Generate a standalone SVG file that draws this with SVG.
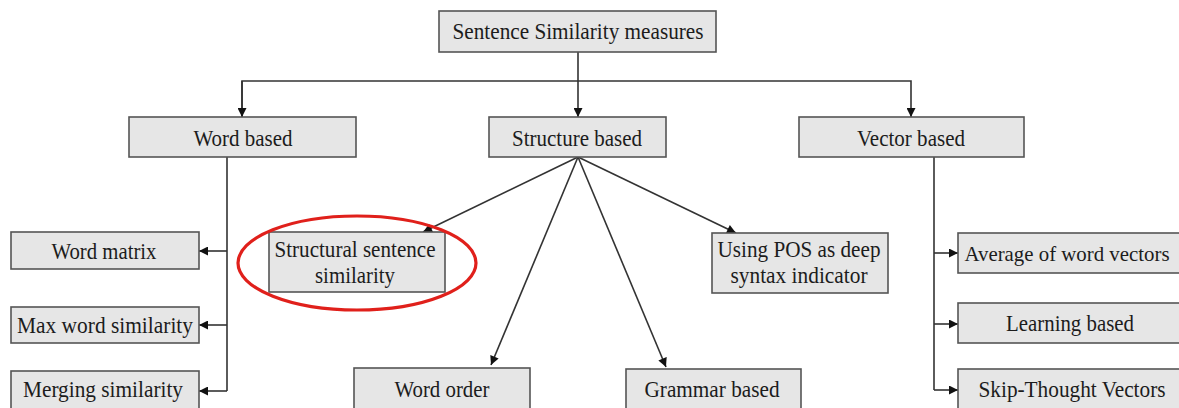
<svg xmlns="http://www.w3.org/2000/svg" width="1179" height="408" viewBox="0 0 1179 408">
<style>
.box{fill:#e6e6e6;stroke:#555;stroke-width:1.6}
.t{font-family:"Liberation Serif","Times New Roman",serif;font-size:23px;fill:#1c1c1c;text-anchor:middle}
.c{fill:none;stroke:#333;stroke-width:1.6}
</style>
<defs>
<marker id="ah" viewBox="0 0 10 10" refX="10" refY="5" markerWidth="10" markerHeight="9" markerUnits="userSpaceOnUse" orient="auto">
<path d="M0,0 L10,5 L0,10 z" fill="#111"/>
</marker>
</defs>
<rect width="1179" height="408" fill="#fff"/>
<g id="connectors">
<path class="c" d="M578,52 V117" marker-end="url(#ah)"/>
<path class="c" d="M242,117 V81 H911 V117" marker-end="url(#ah)"/>
<path class="c" d="M242,81 V117" marker-end="url(#ah)"/>
<path class="c" d="M227,157 V391"/>
<path class="c" d="M227,251 H199" marker-end="url(#ah)"/>
<path class="c" d="M227,325 H199" marker-end="url(#ah)"/>
<path class="c" d="M227,391 H199" marker-end="url(#ah)"/>
<path class="c" d="M578,157 L423,232" marker-end="url(#ah)"/>
<path class="c" d="M578,157 L491,365" marker-end="url(#ah)"/>
<path class="c" d="M578,157 L666,367" marker-end="url(#ah)"/>
<path class="c" d="M578,157 L736,233" marker-end="url(#ah)"/>
<path class="c" d="M934,157 V390"/>
<path class="c" d="M934,253 H958" marker-end="url(#ah)"/>
<path class="c" d="M934,324 H958" marker-end="url(#ah)"/>
<path class="c" d="M934,390 H958" marker-end="url(#ah)"/>
</g>
<g id="n-root"><rect class="box" x="439" y="11" width="277" height="41"/><text class="t" x="578" y="39" textLength="251" lengthAdjust="spacingAndGlyphs">Sentence Similarity measures</text></g>
<g id="n-word"><rect class="box" x="129" y="117" width="227" height="40"/><text class="t" x="243" y="146" textLength="99" lengthAdjust="spacingAndGlyphs">Word based</text></g>
<g id="n-structure"><rect class="box" x="489" y="117" width="177" height="40"/><text class="t" x="577" y="146" textLength="130" lengthAdjust="spacingAndGlyphs">Structure based</text></g>
<g id="n-vector"><rect class="box" x="799" y="117" width="225" height="40"/><text class="t" x="911" y="146" textLength="108" lengthAdjust="spacingAndGlyphs">Vector based</text></g>
<g id="n-wordmatrix"><rect class="box" x="11" y="232" width="188" height="37"/><text class="t" x="104" y="259" textLength="105" lengthAdjust="spacingAndGlyphs">Word matrix</text></g>
<g id="n-maxword"><rect class="box" x="11" y="307" width="188" height="36"/><text class="t" x="105" y="333" textLength="176" lengthAdjust="spacingAndGlyphs">Max word similarity</text></g>
<g id="n-merging"><rect class="box" x="11" y="371" width="188" height="40"/><text class="t" x="103" y="397" textLength="160" lengthAdjust="spacingAndGlyphs">Merging similarity</text></g>
<g id="n-structural"><rect class="box" x="269" y="232" width="176" height="60"/><text class="t" x="355" y="257" textLength="161" lengthAdjust="spacingAndGlyphs">Structural sentence</text><text class="t" x="355" y="283" textLength="80" lengthAdjust="spacingAndGlyphs">similarity</text></g>
<ellipse cx="357" cy="263" rx="119" ry="47" fill="none" stroke="#e0201b" stroke-width="3.2"/>
<g id="n-pos"><rect class="box" x="712" y="233" width="176" height="60"/><text class="t" x="799" y="257" textLength="163" lengthAdjust="spacingAndGlyphs">Using POS as deep</text><text class="t" x="799" y="283" textLength="137" lengthAdjust="spacingAndGlyphs">syntax indicator</text></g>
<g id="n-wordorder"><rect class="box" x="354" y="368" width="176" height="42"/><text class="t" x="442" y="397" textLength="95" lengthAdjust="spacingAndGlyphs">Word order</text></g>
<g id="n-grammar"><rect class="box" x="626" y="369" width="175" height="42"/><text class="t" x="712" y="397" textLength="135" lengthAdjust="spacingAndGlyphs">Grammar based</text></g>
<g id="n-average"><rect class="box" x="958" y="233" width="222" height="40"/><text class="t" x="1067" y="261" style="font-size:21.5px" textLength="205" lengthAdjust="spacingAndGlyphs">Average of word vectors</text></g>
<g id="n-learning"><rect class="box" x="958" y="303" width="222" height="40"/><text class="t" x="1070" y="331" textLength="128" lengthAdjust="spacingAndGlyphs">Learning based</text></g>
<g id="n-skip"><rect class="box" x="958" y="369" width="222" height="42"/><text class="t" x="1072" y="397" textLength="187" lengthAdjust="spacingAndGlyphs">Skip-Thought Vectors</text></g>
</svg>
